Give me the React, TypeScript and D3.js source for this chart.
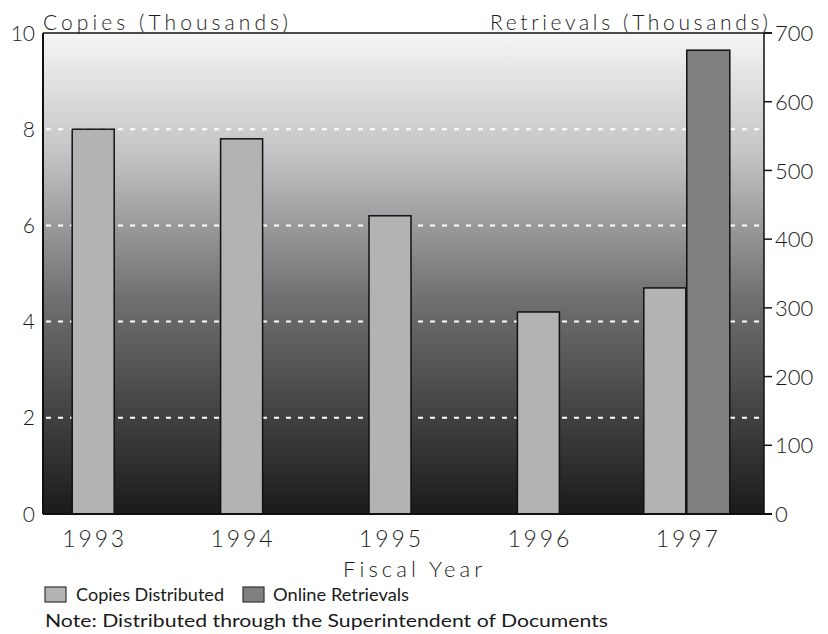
import React from 'react';
import * as d3 from 'd3';

const years = ['1993', '1994', '1995', '1996', '1997'];
const copies = [8.0, 7.8, 6.2, 4.2, 4.7];
const retrievals: (number | null)[] = [null, null, null, null, 675];
const leftTicks = [0, 2, 4, 6, 8, 10];
const rightTicks = [0, 100, 200, 300, 400, 500, 600, 700];
const leftTitle = 'Copies (Thousands)';
const rightTitle = 'Retrievals (Thousands)';
const xTitle = 'Fiscal Year';
const legendItems = ['Copies Distributed', 'Online Retrievals'];
const note = 'Note: Distributed through the Superintendent of Documents';

const W = 828, H = 634;
const L = 43, R = 764, T = 33, B = 514;
const FONT = 'Lato, "Open Sans", sans-serif';
const COPY_FILL = '#b3b3b3';
const RET_FILL = '#808080';
const TXT = '#1a1a1a';

export default function App() {
  const x = d3.scaleBand<string>().domain(years).range([19, 761]).padding(0);
  const yL = d3.scaleLinear().domain([0, 10]).range([B, T]);
  const yR = d3.scaleLinear().domain([0, 700]).range([B, T]);
  const bw = 42;

  const gridTicks = leftTicks.filter((t) => t > 0 && t < 10);

  return (
    <svg width={W} height={H} style={{ position: 'absolute', left: 0, top: 0, background: '#fff' }}>
      <defs>
        <linearGradient id="bg" x1="0" y1="0" x2="0" y2="1">
          <stop offset="0" stopColor="#f5f5f5" />
          <stop offset="0.25" stopColor="#c4c4c6" />
          <stop offset="0.55" stopColor="#707072" />
          <stop offset="1" stopColor="#1c1b1b" />
        </linearGradient>
      </defs>
      <rect x={L} y={T} width={R - L} height={B - T} fill="url(#bg)" />

      {gridTicks.map((t) => (
        <line key={t} x1={L + 3} x2={R - 2} y1={yL(t)} y2={yL(t)} stroke="#ffffff" strokeWidth={2} strokeDasharray="5,7" />
      ))}

      {years.map((yr, i) => {
        const c = (x(yr) as number) + x.bandwidth() / 2;
        const hasR = retrievals[i] != null;
        const cx0 = hasR ? c - bw - 1 : c - bw / 2;
        return (
          <g key={yr}>
            <rect x={cx0} y={yL(copies[i])} width={bw} height={B - yL(copies[i])} fill={COPY_FILL} stroke="#111" strokeWidth={1.5} />
            {hasR && (
              <rect x={c} y={yR(retrievals[i] as number)} width={bw + 1} height={B - yR(retrievals[i] as number)} fill={RET_FILL} stroke="#111" strokeWidth={1.5} />
            )}
          </g>
        );
      })}

      {/* frame */}
      <line x1={L} x2={L} y1={T} y2={B} stroke="#111" strokeWidth={2} />
      <line x1={R} x2={R} y1={T} y2={B} stroke="#111" strokeWidth={1.5} />
      <line x1={L} x2={R + 8} y1={T} y2={T} stroke="#111" strokeWidth={1.5} />
      <line x1={L} x2={R + 8} y1={B} y2={B} stroke="#111" strokeWidth={2} />

      {/* left ticks */}
      {leftTicks.map((t) => (
        <text key={t} x={35} y={yL(t)} dy="0.36em" textAnchor="end" fontFamily={FONT} fontWeight={300} fontSize={21} fill={TXT}>{t}</text>
      ))}
      {/* right ticks */}
      {rightTicks.map((t) => (
        <g key={t}>
          <line x1={R} x2={R + 8} y1={yR(t)} y2={yR(t)} stroke="#111" strokeWidth={1.5} />
          <text x={775} y={yR(t)} dy="0.37em" textAnchor="start" fontFamily={FONT} fontWeight={300} fontSize={22} fill={TXT}>{t}</text>
        </g>
      ))}

      {/* titles */}
      <text x={43} y={30} fontFamily={FONT} fontWeight={300} fontSize={21} fill={TXT} textLength={245} lengthAdjust="spacing">{leftTitle}</text>
      <text x={490} y={30} fontFamily={FONT} fontWeight={300} fontSize={21} fill={TXT} textLength={278} lengthAdjust="spacing">{rightTitle}</text>

      {/* x labels */}
      {years.map((yr) => {
        const c = (x(yr) as number) + x.bandwidth() / 2;
        return (
          <text key={yr} x={c - 31} y={547} fontFamily={FONT} fontWeight={300} fontSize={23} fill={TXT} textLength={62} lengthAdjust="spacing">{yr}</text>
        );
      })}
      <text x={343} y={577} fontFamily={FONT} fontWeight={300} fontSize={22} fill={TXT} textLength={139} lengthAdjust="spacing">{xTitle}</text>

      {/* legend */}
      <rect x={45} y={587} width={21} height={15} fill={COPY_FILL} stroke="#333" strokeWidth={1.2} />
      <text x={76} y={601} fontFamily={FONT} fontWeight={400} fontSize={17} fill={TXT} textLength={148} lengthAdjust="spacingAndGlyphs">{legendItems[0]}</text>
      <rect x={243} y={587} width={21} height={15} fill={RET_FILL} stroke="#333" strokeWidth={1.2} />
      <text x={273} y={601} fontFamily={FONT} fontWeight={400} fontSize={17} fill={TXT} textLength={136} lengthAdjust="spacingAndGlyphs">{legendItems[1]}</text>
      <text x={45} y={627} fontFamily={FONT} fontWeight={400} fontSize={17} fill={TXT} textLength={563} lengthAdjust="spacingAndGlyphs">{note}</text>
    </svg>
  );
}
